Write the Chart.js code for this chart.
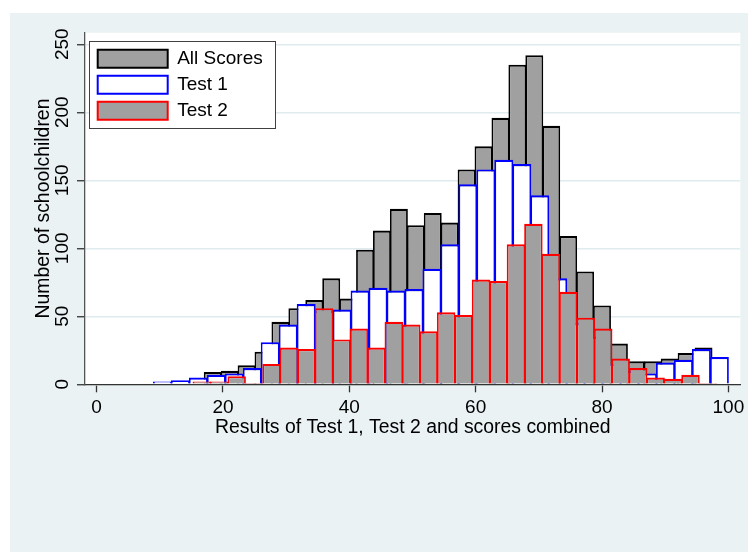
<!DOCTYPE html>
<html>
<head>
<meta charset="utf-8">
<script src="https://cdn.jsdelivr.net/npm/chart.js@4/dist/chart.umd.min.js"></script>
<style>
html, body { margin: 0; padding: 0; background: #ffffff; }
#wrap { position: absolute; left: 10px; top: 13px; width: 738px; height: 539px; background: #eaf2f3; }
canvas { display: block; }
</style>
</head>
<body>
<div id="wrap"><canvas id="c" width="738" height="539"></canvas></div>
<script>
// ---- data ----
const xTicks = [0, 20, 40, 60, 80, 100];
const yTicks = [0, 50, 100, 150, 200, 250];

// All Scores: bin centres and counts
const allCenters = [18.380, 21.059, 23.738, 26.417, 29.096, 31.775, 34.454, 37.133, 39.812, 42.491,
                    45.170, 47.849, 50.528, 53.207, 55.886, 58.565, 61.244, 63.923, 66.602, 69.281,
                    71.960, 74.639, 77.318, 79.997, 82.676, 85.355, 88.034, 90.713, 93.392, 96.071];
const allCounts = [9, 10, 14, 24, 46, 56, 62, 78, 63, 99,
                   113, 129, 117, 126, 119, 158, 175, 196, 235, 242,
                   190, 109, 83, 58, 30, 17, 17, 19, 23, 27];

// Test 1
const test1Centers = [10.422, 13.266, 16.109, 18.953, 21.797, 24.641, 27.484, 30.328, 33.172, 36.016,
                      38.859, 41.703, 44.547, 47.391, 50.234, 53.078, 55.922, 58.766, 61.609, 64.453,
                      67.297, 70.141, 72.984, 75.828, 78.672, 81.516, 84.359, 87.203, 90.047, 92.891,
                      95.734, 98.578];
const test1Counts = [2, 3, 5, 7, 8, 12, 31, 44, 59, 54,
                     55, 69, 71, 69, 70, 85, 103, 147, 158, 165,
                     162, 139, 78, 45, 35, 15, 10, 8, 16, 18,
                     26, 20];

// Test 2
const test2Centers = [16.642, 19.405, 22.168, 24.931, 27.694, 30.457, 33.220, 35.983, 38.746, 41.509,
                      44.272, 47.035, 49.798, 52.561, 55.324, 58.087, 60.850, 63.613, 66.376, 69.139,
                      71.902, 74.665, 77.428, 80.191, 82.954, 85.717, 88.480, 91.243, 94.006, 96.769];
const test2Counts = [2, 2, 6, 1, 15, 27, 26, 56, 33, 41,
                     27, 46, 44, 39, 53, 51, 77, 76, 103, 118,
                     96, 68, 49, 41, 19, 12, 5, 4, 7, 1];

const seriesLabels = ['All Scores', 'Test 1', 'Test 2'];

// ---- chart ----
const FONT = '"Liberation Sans", Arial, Helvetica, sans-serif';
Chart.defaults.font.family = FONT;
Chart.defaults.font.size = 19;
Chart.defaults.color = '#000000';

const X_MIN = -1.84, X_MAX = 101.9, Y_MAX = 258.5;

const toPoints = (xs, ys) => xs.map((x, i) => ({ x: x, y: ys[i] }));

// bars overlap their neighbours by ~1px so that shared edges form one line
const barStyle = (overlap) => ({
  barPercentage: overlap,
  categoryPercentage: 1,
  grouped: false,
  borderWidth: { top: 2.2, left: 1.8, right: 1.8, bottom: 0 },
  borderSkipped: 'start'
});

const hiddenX = () => ({
  type: 'linear', min: X_MIN, max: X_MAX, display: false, offset: false,
  grid: { offset: false },
  afterBuildTicks: (s) => { s.ticks = []; }
});

const plotBg = {
  id: 'plotBg',
  beforeDraw(chart) {
    const { ctx, chartArea: a } = chart;
    ctx.save();
    ctx.fillStyle = '#ffffff';
    ctx.fillRect(a.left, a.top, a.right - a.left, a.bottom - a.top);
    ctx.restore();
  }
};

const legendFrame = {
  id: 'legendFrame',
  beforeLayout(chart) {
    const lg = chart.legend;
    if (lg) {
      lg._layers = function () { return [{ z: 1, draw: (ca) => lg.draw(ca) }]; };
    }
  },
  afterLayout(chart) {
    const lg = chart.legend; const a = chart.chartArea;
    if (!lg) return;
    lg.left = a.left + 5.7;
    lg.top = a.top + 9.5;
    lg.bottom = a.bottom;
    lg.right = lg.left + lg.width;
  },
  afterDatasetsDraw(chart) {
    const lg = chart.legend; if (!lg || !lg.legendHitBoxes) return;
    let l = Infinity, t = Infinity, r = -Infinity, b = -Infinity;
    lg.legendHitBoxes.forEach(h => {
      l = Math.min(l, h.left); t = Math.min(t, h.top);
      r = Math.max(r, h.left + h.width); b = Math.max(b, h.top + h.height);
    });
    const ctx = chart.ctx;
    const fl = Math.round(l - 8.7) + 0.5, ft = Math.round(t - 8.5) + 0.5;
    const fr = Math.round(r + 12.3) + 0.5, fb = Math.round(b + 8.1) + 0.5;
    ctx.save();
    ctx.fillStyle = '#ffffff';
    ctx.fillRect(fl, ft, fr - fl, fb - ft);
    ctx.strokeStyle = '#404040';
    ctx.lineWidth = 1;
    ctx.strokeRect(fl, ft, fr - fl, fb - ft);
    ctx.restore();
  }
};

new Chart(document.getElementById('c'), {
  type: 'bar',
  data: {
    datasets: [
      Object.assign({
        label: seriesLabels[0], data: toPoints(allCenters, allCounts), xAxisID: 'x',
        backgroundColor: '#a0a0a0', borderColor: '#000000', order: 3
      }, barStyle(1.059)),
      Object.assign({
        label: seriesLabels[1], data: toPoints(test1Centers, test1Counts), xAxisID: 'x1',
        backgroundColor: '#ffffff', borderColor: '#0000ff', order: 2
      }, barStyle(1.055)),
      Object.assign({
        label: seriesLabels[2], data: toPoints(test2Centers, test2Counts), xAxisID: 'x2',
        backgroundColor: '#a0a0a0', borderColor: '#ff0000', order: 1
      }, barStyle(1.057))
    ]
  },
  options: {
    responsive: false,
    devicePixelRatio: 1,
    animation: false,
    layout: { autoPadding: false, padding: { top: 19.7, right: 5, bottom: 0, left: 0 } },
    scales: {
      x: {
        type: 'linear', position: 'bottom', min: X_MIN, max: X_MAX, offset: false,
        afterBuildTicks: (s) => { s.ticks = xTicks.map(v => ({ value: v })); },
        afterFit: (s) => { s.height = 167.7; },
        grid: { offset: false, drawOnChartArea: false, drawTicks: true, tickLength: 8, tickColor: '#333333', tickWidth: 1.3 },
        border: { display: true, color: '#333333', width: 1.3 },
        ticks: { color: '#000000', font: { size: 19 }, padding: 3.7, maxRotation: 0, minRotation: 0, autoSkip: false },
        title: { display: true, text: 'Results of Test 1, Test 2 and scores combined', color: '#000000',
                 font: { size: 19.4 }, padding: { top: 0, bottom: 112.6 } }
      },
      x1: hiddenX(),
      x2: hiddenX(),
      y: {
        type: 'linear', position: 'left', min: 0, max: Y_MAX,
        afterBuildTicks: (s) => { s.ticks = yTicks.map(v => ({ value: v })); },
        afterFit: (s) => { s.width = 75; },
        grid: { color: '#dfebee', lineWidth: 1.5, drawTicks: true, tickLength: 8, tickColor: '#333333', tickWidth: 1.3 },
        border: { display: true, color: '#555555', width: 1.3 },
        ticks: { color: '#000000', font: { size: 19 }, padding: -1.5, minRotation: 90, maxRotation: 90, crossAlign: 'center' },
        title: { display: true, text: 'Number of schoolchildren', color: '#000000',
                 font: { size: 19.4 }, padding: { top: 22, bottom: 0 } }
      }
    },
    plugins: {
      tooltip: { enabled: false },
      legend: {
        display: true,
        position: 'chartArea',
        align: 'start',
        labels: {
          boxWidth: 70, boxHeight: 18, padding: 7, color: '#000000', font: { size: 19 },
          sort: (a, b) => a.datasetIndex - b.datasetIndex,
          generateLabels: (chart) => Chart.defaults.plugins.legend.labels.generateLabels(chart)
            .map(item => Object.assign(item, { lineWidth: 2 }))
        }
      }
    }
  },
  plugins: [plotBg, legendFrame]
});
</script>
</body>
</html>
